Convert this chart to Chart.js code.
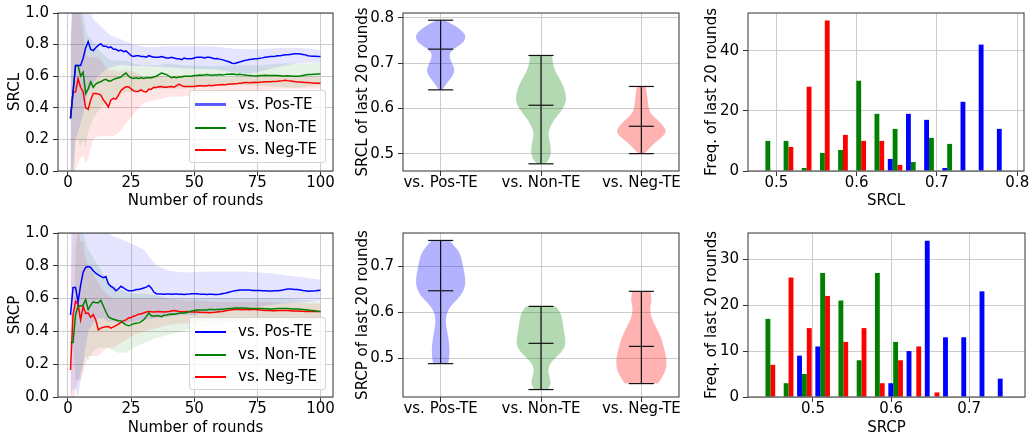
<!DOCTYPE html>
<html>
<head>
<meta charset="utf-8">
<script src="https://cdn.jsdelivr.net/npm/chart.js@4.4.1/dist/chart.umd.min.js"></script>
<style>
  body { margin: 0; width: 1032px; height: 438px; overflow: hidden; background: #fff; position: relative; font-family: 'DejaVu Sans', sans-serif; }
  canvas { position: absolute; }
  .legend { position: absolute; width: 137px; height: 73px; box-sizing: border-box; border: 1px solid #d4d4d4; border-radius: 3px; background: rgba(255,255,255,0.8); font-size: 15px; color: #000; }
  .legend div { position: absolute; left: 0; height: 20px; line-height: 20px; white-space: nowrap; }
  .legend span { display: inline-block; width: 31px; height: 2px; margin: 0 12px 0 5px; vertical-align: middle; }
</style>
</head>
<body>
<canvas id="lineL" width="340" height="219" style="left:0;top:0"></canvas>
<canvas id="lineP" width="340" height="219" style="left:0;top:219px"></canvas>
<canvas id="violL" width="350" height="219" style="left:340px;top:0"></canvas>
<canvas id="violP" width="350" height="219" style="left:340px;top:219px"></canvas>
<canvas id="histL" width="342" height="219" style="left:690px;top:0"></canvas>
<canvas id="histP" width="342" height="219" style="left:690px;top:219px"></canvas>

<div class="legend" style="left:189px;top:90px">
  <div style="top:3px"><span style="background:#5a5aff;height:3px"></span>vs. Pos-TE</div>
  <div style="top:26px"><span style="background:#008000"></span>vs. Non-TE</div>
  <div style="top:48px"><span style="background:#ff0000"></span>vs. Neg-TE</div>
</div>
<div class="legend" style="left:189px;top:317px">
  <div style="top:3px"><span style="background:#0000ff"></span>vs. Pos-TE</div>
  <div style="top:26px"><span style="background:#008000"></span>vs. Non-TE</div>
  <div style="top:48px"><span style="background:#ff0000"></span>vs. Neg-TE</div>
</div>

<script>
// categories
const groups = ['vs. Pos-TE', 'vs. Non-TE', 'vs. Neg-TE'];
const rounds = Array.from({ length: 100 }, (_, i) => i + 1);

// tick labels
const roundTicks = [0, 25, 50, 75, 100];
const rateTicks = [0, 0.2, 0.4, 0.6, 0.8, 1.0];
const srclViolinTicks = [0.5, 0.6, 0.7, 0.8];
const srcpViolinTicks = [0.5, 0.6, 0.7];
const srclHistTicks = [0.5, 0.6, 0.7, 0.8];
const srcpHistTicks = [0.5, 0.6, 0.7];
const srclFreqTicks = [0, 20, 40];
const srcpFreqTicks = [0, 10, 20, 30];

// SRCL per round (mean)
const srclPos = [0.333,0.5,0.667,0.667,0.667,0.714,0.778,0.818,0.769,0.762,
  0.78,0.795,0.805,0.79,0.79,0.78,0.785,0.77,0.77,0.76,
  0.765,0.755,0.76,0.745,0.73,0.725,0.73,0.73,0.725,0.725,
  0.72,0.73,0.725,0.72,0.72,0.72,0.725,0.72,0.715,0.715,
  0.72,0.715,0.71,0.71,0.705,0.715,0.71,0.71,0.71,0.715,
  0.72,0.72,0.72,0.715,0.72,0.72,0.715,0.71,0.712,0.708,
  0.705,0.70,0.695,0.69,0.682,0.68,0.685,0.69,0.695,0.70,
  0.702,0.705,0.708,0.71,0.71,0.713,0.716,0.72,0.722,0.724,
  0.725,0.727,0.73,0.73,0.732,0.735,0.736,0.738,0.74,0.742,
  0.742,0.74,0.738,0.735,0.73,0.728,0.727,0.726,0.725,0.725];
const srclNon = [0.333,0.5,0.667,0.667,0.6,0.625,0.49,0.52,0.565,0.53,
  0.55,0.56,0.565,0.575,0.58,0.57,0.57,0.58,0.585,0.59,
  0.595,0.61,0.62,0.6,0.59,0.585,0.59,0.585,0.59,0.585,
  0.59,0.59,0.59,0.595,0.6,0.61,0.62,0.615,0.61,0.6,
  0.59,0.595,0.59,0.595,0.595,0.6,0.6,0.6,0.6,0.605,
  0.605,0.608,0.606,0.608,0.61,0.608,0.606,0.608,0.608,0.61,
  0.608,0.61,0.612,0.612,0.614,0.612,0.61,0.612,0.61,0.608,
  0.606,0.605,0.603,0.602,0.602,0.604,0.605,0.606,0.605,0.604,
  0.604,0.605,0.604,0.603,0.602,0.602,0.603,0.602,0.6,0.6,
  0.6,0.602,0.605,0.608,0.61,0.61,0.612,0.613,0.614,0.615];
const srclNeg = [0.333,0.5,0.5,0.584,0.53,0.5,0.4,0.39,0.45,0.49,
  0.49,0.488,0.48,0.45,0.43,0.405,0.45,0.46,0.455,0.48,
  0.51,0.523,0.533,0.533,0.52,0.507,0.503,0.505,0.513,0.503,
  0.5,0.517,0.518,0.53,0.528,0.533,0.535,0.53,0.53,0.533,
  0.535,0.53,0.54,0.55,0.54,0.535,0.535,0.535,0.535,0.535,
  0.538,0.54,0.54,0.538,0.54,0.542,0.54,0.543,0.545,0.545,
  0.547,0.546,0.548,0.55,0.55,0.552,0.553,0.555,0.557,0.56,
  0.56,0.558,0.56,0.562,0.56,0.562,0.563,0.565,0.565,0.565,
  0.566,0.567,0.568,0.57,0.572,0.575,0.572,0.57,0.568,0.565,
  0.564,0.563,0.562,0.56,0.56,0.558,0.557,0.556,0.555,0.555];

// SRCP per round (mean)
const srcpPos = [0.5,0.667,0.667,0.58,0.68,0.76,0.79,0.795,0.79,0.77,
  0.755,0.745,0.735,0.728,0.735,0.69,0.675,0.665,0.648,0.66,
  0.675,0.665,0.655,0.648,0.648,0.65,0.655,0.655,0.66,0.665,
  0.67,0.68,0.665,0.64,0.63,0.628,0.628,0.627,0.628,0.628,
  0.627,0.628,0.628,0.627,0.626,0.625,0.627,0.628,0.63,0.63,
  0.63,0.628,0.627,0.626,0.625,0.627,0.626,0.625,0.625,0.627,
  0.63,0.632,0.636,0.64,0.644,0.648,0.65,0.652,0.652,0.653,
  0.652,0.652,0.65,0.65,0.65,0.649,0.648,0.648,0.647,0.647,
  0.647,0.648,0.648,0.65,0.652,0.655,0.658,0.658,0.657,0.656,
  0.655,0.653,0.65,0.648,0.645,0.646,0.647,0.648,0.65,0.651];
const srcpNon = [0.333,0.333,0.5,0.556,0.555,0.56,0.594,0.533,0.56,0.58,
  0.575,0.575,0.59,0.555,0.52,0.49,0.48,0.474,0.47,0.465,
  0.463,0.45,0.44,0.435,0.44,0.447,0.45,0.452,0.46,0.471,
  0.49,0.512,0.495,0.492,0.495,0.495,0.49,0.498,0.5,0.503,
  0.506,0.505,0.508,0.51,0.512,0.512,0.515,0.52,0.525,0.528,
  0.53,0.53,0.531,0.53,0.53,0.533,0.533,0.532,0.533,0.534,
  0.535,0.536,0.538,0.54,0.54,0.542,0.543,0.543,0.542,0.542,
  0.541,0.54,0.54,0.54,0.54,0.539,0.539,0.538,0.538,0.537,
  0.537,0.538,0.539,0.54,0.54,0.54,0.539,0.538,0.537,0.537,
  0.536,0.535,0.534,0.532,0.53,0.528,0.527,0.525,0.523,0.522];
const srcpNeg = [0.165,0.5,0.584,0.565,0.47,0.553,0.51,0.512,0.486,0.502,
  0.47,0.41,0.42,0.425,0.428,0.43,0.42,0.428,0.435,0.445,
  0.455,0.465,0.47,0.482,0.485,0.492,0.498,0.505,0.508,0.512,
  0.518,0.522,0.52,0.518,0.52,0.521,0.52,0.518,0.52,0.522,
  0.525,0.527,0.525,0.522,0.52,0.52,0.521,0.52,0.519,0.518,
  0.518,0.517,0.516,0.515,0.515,0.514,0.515,0.516,0.518,0.52,
  0.522,0.525,0.527,0.53,0.532,0.533,0.533,0.533,0.532,0.533,
  0.533,0.532,0.533,0.533,0.532,0.53,0.529,0.528,0.527,0.527,
  0.526,0.526,0.527,0.527,0.527,0.527,0.527,0.526,0.525,0.524,
  0.524,0.523,0.523,0.522,0.522,0.522,0.522,0.522,0.522,0.522];

// spread bands (upper / lower edge), sampled at these rounds
const bandRounds = [1,2,3,4,5,6,7,8,10,12,14,16,18,20,23,26,30,35,40,45,50,55,60,65,70,75,80,85,90,95,100];
const srclPosUp = [0.80,1.2,1.2,1.2,1.2,1.15,1.1,1.05,0.96,0.93,0.9,0.87,0.85,0.84,0.82,0.80,0.785,0.785,0.79,0.79,0.79,0.79,0.785,0.775,0.77,0.77,0.775,0.78,0.78,0.775,0.765];
const srclPosLo = [-0.13,0.0,0.2,0.25,0.3,0.35,0.45,0.5,0.55,0.6,0.63,0.65,0.66,0.67,0.67,0.665,0.665,0.66,0.655,0.65,0.645,0.645,0.64,0.625,0.615,0.625,0.645,0.665,0.68,0.685,0.685];
const srclNonUp = [0.8,1.1,1.15,1.15,1.05,1.0,0.9,0.85,0.82,0.77,0.74,0.71,0.7,0.7,0.7,0.68,0.67,0.67,0.68,0.67,0.665,0.665,0.665,0.67,0.67,0.67,0.675,0.68,0.68,0.68,0.685];
const srclNonLo = [-0.13,-0.1,0.2,0.2,0.15,0.2,0.15,0.25,0.33,0.38,0.42,0.44,0.46,0.48,0.5,0.5,0.51,0.52,0.52,0.52,0.53,0.535,0.54,0.545,0.545,0.54,0.535,0.53,0.525,0.535,0.545];
const srclNegUp = [0.8,1.1,1.1,1.1,1.0,0.9,0.75,0.72,0.72,0.72,0.68,0.64,0.64,0.63,0.64,0.63,0.6,0.6,0.6,0.61,0.6,0.59,0.59,0.59,0.6,0.6,0.6,0.6,0.6,0.6,0.59];
const srclNegLo = [-0.13,-0.1,0.0,0.05,0.08,0.1,0.05,0.08,0.2,0.22,0.22,0.22,0.22,0.24,0.3,0.36,0.43,0.45,0.47,0.47,0.48,0.49,0.5,0.51,0.51,0.51,0.515,0.52,0.52,0.52,0.52];
const srcpPosUp = [1.0,1.3,1.3,1.3,1.3,1.25,1.2,1.15,1.1,1.05,1.02,1.0,0.98,0.97,0.95,0.93,0.9,0.8,0.77,0.76,0.76,0.765,0.765,0.765,0.765,0.76,0.755,0.745,0.735,0.725,0.715];
const srcpPosLo = [0.0,0.05,0.05,0.0,0.1,0.2,0.3,0.4,0.45,0.48,0.48,0.46,0.46,0.45,0.45,0.46,0.47,0.48,0.49,0.5,0.5,0.51,0.52,0.53,0.54,0.55,0.56,0.57,0.575,0.58,0.585];
const srcpNonUp = [0.333,0.333,0.9,1.0,1.0,1.0,0.95,0.9,0.85,0.8,0.75,0.7,0.68,0.66,0.64,0.63,0.63,0.62,0.6,0.6,0.6,0.6,0.6,0.6,0.6,0.6,0.6,0.6,0.595,0.59,0.58];
const srcpNonLo = [0.333,0.333,0.1,0.1,0.15,0.2,0.25,0.22,0.28,0.3,0.3,0.3,0.28,0.27,0.27,0.3,0.33,0.36,0.38,0.4,0.42,0.43,0.44,0.46,0.47,0.48,0.48,0.48,0.47,0.465,0.46];
const srcpNegUp = [0.6,1.1,1.1,1.05,0.95,0.95,0.85,0.8,0.75,0.7,0.65,0.62,0.6,0.6,0.6,0.6,0.6,0.6,0.6,0.59,0.59,0.585,0.58,0.58,0.58,0.58,0.58,0.575,0.575,0.57,0.57];
const srcpNegLo = [-0.27,-0.1,0.05,0.1,0.1,0.15,0.2,0.25,0.25,0.25,0.28,0.3,0.3,0.32,0.35,0.38,0.4,0.42,0.44,0.45,0.45,0.46,0.46,0.47,0.47,0.47,0.47,0.47,0.47,0.47,0.475];

// last 20 rounds: violin summary (min / max / median) and density outline
const violinWidth = 0.5;
const srclMin = [0.641, 0.4775, 0.5];
const srclMax = [0.795, 0.717, 0.6485];
const srclMed = [0.731, 0.607, 0.5605];
const srcpMin = [0.4884, 0.432, 0.445];
const srcpMax = [0.7565, 0.613, 0.6457];
const srcpMed = [0.647, 0.5326, 0.526];

const srclPosY = [0.795,0.787,0.776,0.765,0.755,0.744,0.733,0.723,0.712,0.701,0.687,0.676,0.666,0.655,0.644,0.641];
const srclPosW = [0.04,0.11,0.19,0.24,0.25,0.22,0.14,0.09,0.09,0.11,0.14,0.13,0.10,0.06,0.025,0.02];
const srclNonY = [0.717,0.701,0.683,0.666,0.649,0.627,0.616,0.599,0.581,0.563,0.546,0.528,0.510,0.496,0.484,0.4775];
const srclNonW = [0.11,0.115,0.14,0.185,0.225,0.25,0.25,0.22,0.15,0.10,0.07,0.085,0.10,0.095,0.07,0.04];
const srclNegY = [0.6485,0.634,0.613,0.591,0.577,0.563,0.549,0.538,0.527,0.513,0.502,0.5];
const srclNegW = [0.045,0.055,0.065,0.08,0.15,0.215,0.25,0.215,0.15,0.085,0.04,0.03];
const srcpPosY = [0.7565,0.740,0.725,0.704,0.682,0.660,0.638,0.620,0.602,0.584,0.566,0.544,0.522,0.504,0.4884];
const srcpPosW = [0.09,0.157,0.2,0.22,0.24,0.25,0.21,0.125,0.065,0.05,0.058,0.078,0.088,0.088,0.075];
const srcpNonY = [0.613,0.5986,0.580,0.5587,0.530,0.5116,0.4935,0.475,0.457,0.4428,0.432];
const srcpNonW = [0.15,0.2,0.215,0.23,0.25,0.2,0.1,0.066,0.09,0.1,0.066];
const srcpNegY = [0.6457,0.6275,0.6094,0.5877,0.566,0.544,0.5225,0.5007,0.479,0.4609,0.445];
const srcpNegW = [0.09,0.107,0.083,0.1,0.15,0.2,0.225,0.25,0.25,0.215,0.165];

// last 20 rounds: histogram counts (14 bins between min and max of all values)
const srclBinMin = 0.478, srclBinMax = 0.795;
const srcpBinMin = 0.4306, srcpBinMax = 0.7576;
const srclHistPos = [0,0,0,0,0,0,0,4,19,17,1,23,42,14];
const srclHistNon = [10,10,1,6,7,30,19,14,3,11,9,0,0,0];
const srclHistNeg = [0,8,28,50,12,10,10,2,0,0,0,0,0,0];
const srcpHistPos = [0,0,9,11,0,0,0,3,10,34,13,13,23,4];
const srcpHistNon = [17,3,5,27,21,8,27,12,0,0,0,0,0,0];
const srcpHistNeg = [7,26,15,22,12,15,3,8,11,1,0,0,0,0];

const colors = ['#0000ff', '#008000', '#ff0000'];
const bandFills = ['rgba(0,0,255,0.1)', 'rgba(0,128,0,0.1)', 'rgba(255,0,0,0.1)'];
const bodyFills = ['rgba(0,0,255,0.3)', 'rgba(0,128,0,0.3)', 'rgba(255,0,0,0.3)'];
const gridColor = '#cdcdcd';

Chart.defaults.font.family = "'DejaVu Sans', sans-serif";
Chart.defaults.font.size = 15;
Chart.defaults.color = '#000';
Chart.defaults.animation = false;
Chart.defaults.responsive = false;
Chart.defaults.devicePixelRatio = 1;
Chart.defaults.events = [];
Chart.defaults.plugins.legend.display = false;
Chart.defaults.plugins.tooltip.enabled = false;

// draws the box round the plot area, like the axes spines
const frame = {
  id: 'frame',
  afterDatasetsDraw(chart) {
    const { ctx, chartArea: a } = chart;
    ctx.save();
    ctx.strokeStyle = '#333';
    ctx.lineWidth = 1;
    ctx.strokeRect(a.left, a.top, a.right - a.left, a.bottom - a.top);
    ctx.restore();
  }
};

function fixedTicks(values) {
  return scale => { scale.ticks = values.map(v => ({ value: v })); };
}

function scalesFor(o) {
  return {
    x: {
      type: 'linear', min: o.xMin, max: o.xMax, offset: false,
      afterBuildTicks: fixedTicks(o.xTicks),
      afterFit: s => { s.height = o.xHeight; },
      grid: { color: gridColor, offset: false, tickLength: 5, tickColor: '#333' },
      border: { display: false },
      ticks: { padding: -2, maxRotation: 0, autoSkip: false, callback: o.xFmt },
      title: { display: !!o.xTitle, text: o.xTitle, padding: { top: 0, bottom: o.xTitlePad } }
    },
    y: {
      type: 'linear', min: o.yMin, max: o.yMax,
      afterBuildTicks: fixedTicks(o.yTicks),
      afterFit: s => { s.width = o.yWidth; },
      grid: { color: gridColor, tickLength: 5, tickColor: '#333' },
      border: { display: false },
      ticks: { padding: 4, autoSkip: false, callback: o.yFmt },
      title: { display: true, text: o.yTitle, padding: { top: o.yTitlePad, bottom: 0 } }
    }
  };
}

const oneDecimal = v => v.toFixed(1);
const whole = v => String(v);

function lineChart(id, lines, bands, yTitle, pad, xHeight, xTitlePad) {
  const datasets = [];
  bands.forEach((b, k) => {
    datasets.push({ data: bandRounds.map((r, i) => ({ x: r, y: b[1][i] })), borderWidth: 0, borderColor: 'transparent', pointRadius: 0, fill: false, order: 1 });
    datasets.push({ data: bandRounds.map((r, i) => ({ x: r, y: b[0][i] })), borderWidth: 0, borderColor: 'transparent', pointRadius: 0, fill: '-1', backgroundColor: bandFills[k], order: 1 });
  });
  lines.forEach((vals, k) => {
    datasets.push({ data: rounds.map((r, i) => ({ x: r, y: vals[i] })), borderColor: colors[k], borderWidth: 1.5, pointRadius: 0, fill: false, order: 0 });
  });
  return new Chart(document.getElementById(id), {
    type: 'line',
    data: { datasets },
    options: {
      layout: { padding: pad },
      plugins: { filler: { propagate: false, drawTime: 'beforeDatasetsDraw' } },
      scales: scalesFor({
        xMin: -3.95, xMax: 104.95, xTicks: roundTicks, xFmt: whole, xTitle: 'Number of rounds', xTitlePad: xTitlePad, xHeight: xHeight,
        yMin: 0, yMax: 1, yTicks: rateTicks, yFmt: oneDecimal, yTitle: yTitle, yTitlePad: 6, yWidth: 58
      })
    },
    plugins: [frame]
  });
}

function traceSide(ctx, pts, first) {
  if (first) ctx.moveTo(pts[0][0], pts[0][1]); else ctx.lineTo(pts[0][0], pts[0][1]);
  for (let i = 1; i < pts.length - 1; i++) {
    ctx.quadraticCurveTo(pts[i][0], pts[i][1], (pts[i][0] + pts[i + 1][0]) / 2, (pts[i][1] + pts[i + 1][1]) / 2);
  }
  const last = pts[pts.length - 1];
  ctx.lineTo(last[0], last[1]);
}

function violinBodies(bodies) {
  return {
    id: 'violinBodies',
    beforeDatasetsDraw(chart) {
      const { ctx, scales: { x, y } } = chart;
      ctx.save();
      bodies.forEach(([ys, ws], i) => {
        const p = i + 1;
        const right = ys.map((v, k) => [x.getPixelForValue(p + ws[k]), y.getPixelForValue(v)]);
        const left = ys.map((v, k) => [x.getPixelForValue(p - ws[k]), y.getPixelForValue(v)]).reverse();
        ctx.beginPath();
        traceSide(ctx, right, true);
        traceSide(ctx, left, false);
        ctx.closePath();
        ctx.fillStyle = bodyFills[i];
        ctx.fill();
      });
      ctx.restore();
    }
  };
}

function violinChart(id, bodies, mins, maxs, meds, yMin, yMax, yTicks, yTitle, pad, xHeight) {
  const h = violinWidth / 4;
  const datasets = [];
  mins.forEach((lo, i) => {
    const p = i + 1, hi = maxs[i], md = meds[i];
    [[p, lo, p, hi], [p - h, lo, p + h, lo], [p - h, hi, p + h, hi], [p - h, md, p + h, md]].forEach(([x1, y1, x2, y2]) => {
      datasets.push({ data: [{ x: x1, y: y1 }, { x: x2, y: y2 }], showLine: true, borderColor: '#111', borderWidth: 1.2, pointRadius: 0 });
    });
  });
  return new Chart(document.getElementById(id), {
    type: 'scatter',
    data: { datasets },
    options: {
      layout: { padding: pad },
      scales: scalesFor({
        xMin: 0.625, xMax: 3.375, xTicks: [1, 2, 3], xFmt: v => groups[v - 1], xTitle: '', xTitlePad: 0, xHeight: xHeight,
        yMin: yMin, yMax: yMax, yTicks: yTicks, yFmt: oneDecimal, yTitle: yTitle, yTitlePad: 14, yWidth: 63
      })
    },
    plugins: [violinBodies(bodies), frame]
  });
}

function histChart(id, lo, hi, counts, xMin, xMax, xTicks, yMax, yTicks, xTitle, pad, xHeight, xTitlePad) {
  const w = (hi - lo) / counts[0].length;
  const datasets = counts.map((c, k) => ({
    data: c.map((n, i) => ({ x: lo + (i + 0.5) * w, y: n })),
    backgroundColor: colors[k], borderWidth: 0, categoryPercentage: 0.8, barPercentage: 1
  }));
  return new Chart(document.getElementById(id), {
    type: 'bar',
    data: { datasets },
    options: {
      layout: { padding: pad },
      scales: scalesFor({
        xMin: xMin, xMax: xMax, xTicks: xTicks, xFmt: oneDecimal, xTitle: xTitle, xTitlePad: xTitlePad, xHeight: xHeight,
        yMin: 0, yMax: yMax, yTicks: yTicks, yFmt: whole, yTitle: 'Freq. of last 20 rounds', yTitlePad: 13.5, yWidth: 58
      })
    },
    plugins: [frame]
  });
}

lineChart('lineL', [srclPos, srclNon, srclNeg],
  [[srclPosUp, srclPosLo], [srclNonUp, srclNonLo], [srclNegUp, srclNegLo]],
  'SRCL', { top: 6, right: 7, left: 0, bottom: 0 }, 48, 9);
lineChart('lineP', [srcpPos, srcpNon, srcpNeg],
  [[srcpPosUp, srcpPosLo], [srcpNonUp, srcpNonLo], [srcpNegUp, srcpNegLo]],
  'SRCP', { top: 14, right: 7, left: 0, bottom: 0 }, 41, 1);

violinChart('violL', [[srclPosY, srclPosW], [srclNonY, srclNonW], [srclNegY, srclNegW]],
  srclMin, srclMax, srclMed, 0.4616, 0.8109, srclViolinTicks, 'SRCL of last 20 rounds',
  { top: 6, right: 11, left: 0, bottom: 0 }, 48);
violinChart('violP', [[srcpPosY, srcpPosW], [srcpNonY, srcpNonW], [srcpNegY, srcpNegW]],
  srcpMin, srcpMax, srcpMed, 0.4158, 0.7727, srcpViolinTicks, 'SRCP of last 20 rounds',
  { top: 14, right: 11, left: 0, bottom: 0 }, 41);

histChart('histL', srclBinMin, srclBinMax, [srclHistPos, srclHistNon, srclHistNeg],
  0.4646, 0.8084, srclHistTicks, 52.5, srclFreqTicks, 'SRCL',
  { top: 6, right: 8, left: 0, bottom: 0 }, 48, 9);
histChart('histP', srcpBinMin, srcpBinMax, [srcpHistPos, srcpHistNon, srcpHistNeg],
  0.4168, 0.7714, srcpHistTicks, 35.7, srcpFreqTicks, 'SRCP',
  { top: 14, right: 7, left: 0, bottom: 0 }, 41, 1);
</script>
</body>
</html>
